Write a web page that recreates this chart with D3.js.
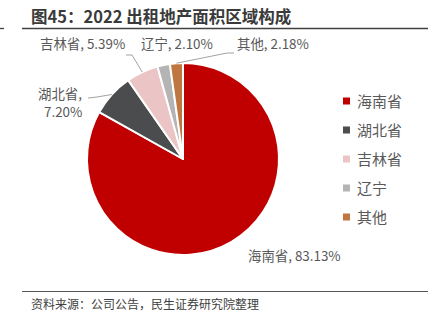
<!DOCTYPE html>
<html><head><meta charset="utf-8">
<script src="https://cdn.jsdelivr.net/npm/d3@7"></script>
<style>
body{margin:0;background:#fff;}
svg{display:block;font-family:"Noto Sans CJK SC","Noto Sans",sans-serif;}
</style></head>
<body><svg id="c" width="436" height="321"></svg>
<script>
const categories = ["海南省","湖北省","吉林省","辽宁","其他"];
const values = [83.13, 7.20, 5.39, 2.10, 2.18];
const colors = ["#C00000","#4B4C4E","#EBC5C5","#B4B4B4","#C0773F"];
const title = "图45：2022 出租地产面积区域构成";
const source = "资料来源：公司公告，民生证券研究院整理";

const svg = d3.select("#c");
const cx = 183, cy = 159, r = 96;

// title & rules
svg.append("text").attr("x",31).attr("y",23).attr("font-size",16.5).attr("font-weight","bold")
  .attr("fill","#3a3a3a").text(title);
svg.append("line").attr("x1",22).attr("x2",428).attr("y1",28.5).attr("y2",28.5).attr("stroke","#404040").attr("stroke-width",1.3);
svg.append("line").attr("x1",0).attr("x2",4).attr("y1",28.5).attr("y2",28.5).attr("stroke","#404040").attr("stroke-width",1.3);
svg.append("line").attr("x1",22).attr("x2",428).attr("y1",291.5).attr("y2",291.5).attr("stroke","#555").attr("stroke-width",1.2);
svg.append("text").attr("x",31).attr("y",309).attr("font-size",12).attr("fill","#404040").text(source);

const data = categories.map((c,i)=>({cat:c,val:values[i],col:colors[i]}));
const pie = d3.pie().sort(null).value(d=>d.val).startAngle(0).endAngle(2*Math.PI);
const arcs = pie(data);
const arc = d3.arc().innerRadius(0).outerRadius(r);
const g = svg.append("g").attr("transform",`translate(${cx},${cy})`);
g.selectAll("path").data(arcs).enter().append("path")
  .attr("d",arc).attr("fill",d=>d.data.col).attr("stroke","#fff").attr("stroke-width",2).attr("stroke-linejoin","round");

function edge(a, rr){ const m=(a.startAngle+a.endAngle)/2; return [cx+rr*Math.sin(m), cy-rr*Math.cos(m)]; }

const lab = (a)=> `${a.data.cat}, ${a.data.val.toFixed(2)}%`;
const tcol = "#595959", fs = 13.4;
svg.append("text").attr("x",248).attr("y",261).attr("font-size",fs).attr("fill",tcol).text(lab(arcs[0]));
svg.append("text").attr("x",38).attr("y",99).attr("font-size",fs).attr("fill",tcol).text(arcs[1].data.cat+",");
svg.append("text").attr("x",44).attr("y",117).attr("font-size",fs).attr("fill",tcol).text(arcs[1].data.val.toFixed(2)+"%");
svg.append("text").attr("x",40).attr("y",49).attr("font-size",fs).attr("fill",tcol).text(lab(arcs[2]));
svg.append("text").attr("x",141).attr("y",49).attr("font-size",fs).attr("fill",tcol).text(lab(arcs[3]));
svg.append("text").attr("x",237).attr("y",49).attr("font-size",fs).attr("fill",tcol).text(lab(arcs[4]));

const line = d3.line();
const lc = "#8c8c8c";
const e1 = edge(arcs[1], r), e2 = edge(arcs[2], r), e4 = edge(arcs[4], r);
svg.append("path").attr("d",line([[88,98],[97,97],e1])).attr("fill","none").attr("stroke",lc).attr("stroke-width",0.8);
svg.append("path").attr("d",line([[126,55],[132,55],e2])).attr("fill","none").attr("stroke",lc).attr("stroke-width",0.8);
svg.append("path").attr("d",line([e4,[227,53],[234,53]])).attr("fill","none").attr("stroke",lc).attr("stroke-width",0.8);

const ly = d3.scalePoint().domain(categories).range([101,217]);
const lg = svg.append("g");
categories.forEach((c,i)=>{
  lg.append("rect").attr("x",343).attr("y",ly(c)-3.5).attr("width",7).attr("height",7).attr("fill",colors[i]);
  lg.append("text").attr("x",357).attr("y",ly(c)+5.5).attr("font-size",15).attr("fill",tcol).text(c);
});
</script></body></html>
